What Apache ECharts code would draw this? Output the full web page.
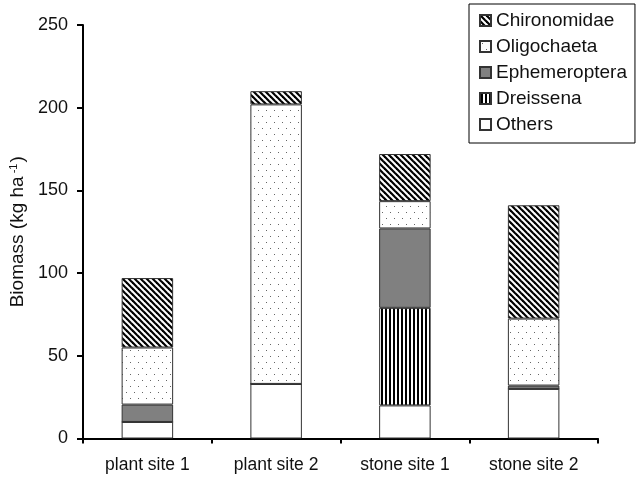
<!DOCTYPE html>
<html>
<head>
<meta charset="utf-8">
<script src="https://cdn.jsdelivr.net/npm/echarts@6/dist/echarts.min.js"></script>
<style>
  html, body { margin: 0; padding: 0; background: #fff; }
  #chart { width: 639px; height: 479px; }
</style>
</head>
<body>
<div id="chart"></div>
<script>
// Sampling sites and biomass per taxon (kg ha-1)
const sites = ['plant site 1', 'plant site 2', 'stone site 1', 'stone site 2'];
const others        = [10, 33, 20, 30];
const dreissena     = [0, 0, 59, 0];
const ephemeroptera = [10.5, 0, 48, 2];
const oligochaeta   = [34.5, 169, 16.5, 40.5];
const chironomidae  = [42, 8, 28.5, 68.5];
const yTicks = [0, 50, 100, 150, 200, 250];

const FONT = 'Liberation Sans, Arial, Helvetica, sans-serif';

// Hatch fills drawn onto small repeating canvases
function tile(w, h, draw) {
  const c = document.createElement('canvas');
  c.width = w; c.height = h;
  const ctx = c.getContext('2d');
  ctx.fillStyle = '#fff';
  ctx.fillRect(0, 0, w, h);
  draw(ctx, w, h);
  return { image: c, repeat: 'repeat' };
}

const diagFill = tile(6, 6, (ctx, w, h) => {
  ctx.strokeStyle = '#000';
  ctx.lineWidth = 2.2;
  for (let k = -1; k <= 1; k++) {
    ctx.beginPath();
    ctx.moveTo(k * w - 1, -1);
    ctx.lineTo(k * w + w + 1, h + 1);
    ctx.stroke();
  }
});

const dotFill = tile(8, 12, (ctx) => {
  ctx.fillStyle = '#666';
  ctx.fillRect(2, 2, 1, 1);
  ctx.fillRect(6, 8, 1, 1);
});

const vertFill = tile(4, 4, (ctx, w, h) => {
  ctx.fillStyle = '#000';
  ctx.fillRect(1, 0, 2, h);
});

const border = { borderColor: '#333', borderWidth: 1 };

function layer(name, data, fill) {
  return {
    name: name,
    type: 'bar',
    stack: 'total',
    barWidth: '40%',
    data: data,
    itemStyle: Object.assign({ color: fill }, border),
    emphasis: { disabled: true },
    animation: false
  };
}

const chart = echarts.init(document.getElementById('chart'), null, { renderer: 'canvas' });

chart.setOption({
  backgroundColor: '#fff',
  animation: false,
  grid: { left: 83, right: 41, top: 25, bottom: 40.5, containLabel: false, outerBoundsMode: 'none' },
  legend: {
    orient: 'vertical',
    left: 469,
    top: 4,
    data: ['Chironomidae', 'Oligochaeta', 'Ephemeroptera', 'Dreissena', 'Others'],
    icon: 'rect',
    itemWidth: 11,
    itemHeight: 11,
    itemGap: 7,
    padding: [7, 8, 9, 10],
    borderColor: '#000',
    borderWidth: 1,
    textStyle: { fontFamily: FONT, fontSize: 19, color: '#111', padding: [0, 0, 0, 0] }
  },
  xAxis: {
    type: 'category',
    data: sites,
    boundaryGap: true,
    axisLine: { lineStyle: { color: '#000', width: 2 } },
    axisTick: { show: true, length: 5, lineStyle: { color: '#000', width: 2 } },
    axisLabel: { margin: 18, fontFamily: FONT, fontSize: 17.5, color: '#111' }
  },
  yAxis: {
    type: 'value',
    min: yTicks[0],
    max: yTicks[yTicks.length - 1],
    interval: yTicks[1] - yTicks[0],
    name: '{a|Biomass (kg ha}{s| -1}{a|)}',
    nameLocation: 'middle',
    nameRotate: 90,
    nameGap: 56,
    nameTextStyle: {
      rich: {
        a: { fontFamily: FONT, fontSize: 19, color: '#111' },
        s: { fontFamily: FONT, fontSize: 11, color: '#111', verticalAlign: 'top', padding: [0, 1, 8, 0] }
      }
    },
    splitLine: { show: false },
    axisLine: { show: true, lineStyle: { color: '#000', width: 2 } },
    axisTick: { show: true, length: 6, lineStyle: { color: '#000', width: 2 } },
    axisLabel: { margin: 15, fontFamily: FONT, fontSize: 18, color: '#111' }
  },
  series: [
    layer('Others', others, '#fff'),
    layer('Dreissena', dreissena, vertFill),
    layer('Ephemeroptera', ephemeroptera, '#808080'),
    layer('Oligochaeta', oligochaeta, dotFill),
    layer('Chironomidae', chironomidae, diagFill)
  ]
});
</script>
</body>
</html>
